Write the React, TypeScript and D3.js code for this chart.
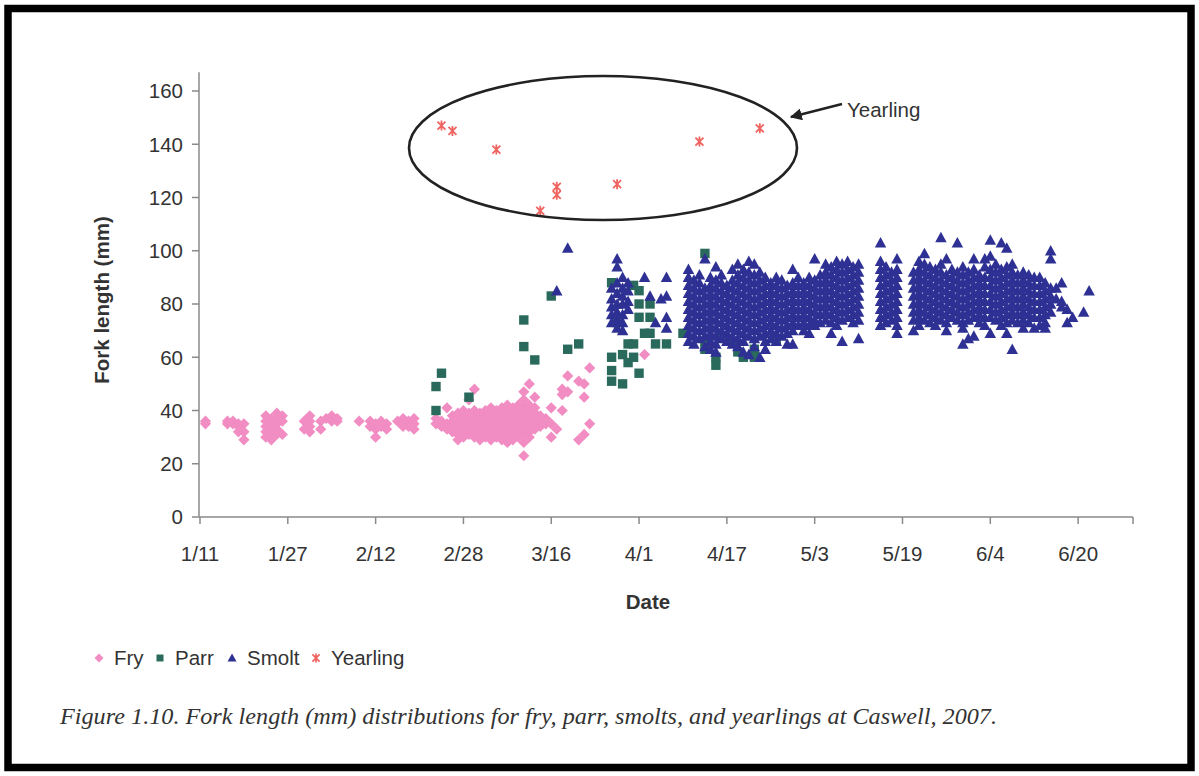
import React from "react";
import * as d3 from "d3";

// ---------- DATA ----------
const xTickLabels = ["1/11", "1/27", "2/12", "2/28", "3/16", "4/1", "4/17", "5/3", "5/19", "6/4", "6/20"];
const yTickValues = [0, 20, 40, 60, 80, 100, 120, 140, 160];
const seriesNames = ["Fry", "Parr", "Smolt", "Yearling"];

type Col = [string, number[]];

const fry: Col[] = [
  ["1/12", [36, 35]], ["1/16", [36, 35]], ["1/17", [36, 35]], ["1/18", [35, 34, 32]], ["1/19", [35, 32, 29]],
  ["1/23", [38, 36, 34, 32, 30]], ["1/24", [37, 35, 33, 31, 29]], ["1/25", [39, 37, 35, 33, 31]], ["1/26", [38, 36, 31]],
  ["1/30", [36, 33]], ["1/31", [38, 36, 34, 32]], ["2/2", [36, 33]], ["2/3", [37]], ["2/4", [38, 36]], ["2/5", [37, 36]],
  ["2/9", [36]], ["2/11", [36, 34]], ["2/12", [35, 33, 30]], ["2/13", [36, 34]], ["2/14", [35, 33]], ["2/16", [36]],
  ["2/17", [37, 35, 34]], ["2/18", [36, 34]], ["2/19", [37, 35, 33]],
  ["2/23", [37, 35]], ["2/24", [36, 34]], ["2/25", [41, 35, 33]], ["2/26", [38, 36, 34, 32]],
  ["2/27", [39, 37, 35, 33, 31, 29]], ["2/28", [40, 38, 36, 34, 32, 30]], ["3/1", [44, 39, 37, 35, 33, 31]],
  ["3/2", [48, 40, 38, 36, 34, 32, 30]], ["3/3", [39, 37, 35, 33, 31, 29]], ["3/4", [40, 38, 36, 34, 32, 30]],
  ["3/5", [41, 39, 37, 35, 33, 31, 29]], ["3/6", [40, 38, 36, 34, 32, 30]], ["3/7", [41, 39, 37, 35, 33, 31, 29]],
  ["3/8", [42, 40, 38, 36, 34, 32, 30, 28]], ["3/9", [41, 39, 37, 35, 33, 31, 29]], ["3/10", [42, 40, 38, 36, 34, 32, 30]],
  ["3/11", [47, 44, 41, 39, 37, 35, 33, 31, 28, 23]], ["3/12", [50, 42, 40, 38, 36, 34, 32, 30]],
  ["3/13", [45, 41, 39, 37, 35, 33]], ["3/14", [38, 36, 34]], ["3/15", [37, 35]], ["3/16", [41, 35, 30]],
  ["3/17", [33]], ["3/18", [48, 46, 40]], ["3/19", [53, 47]], ["3/21", [51, 29]], ["3/22", [50, 45, 31]],
  ["3/23", [56, 35]], ["4/2", [61]],
];

const parr: Col[] = [
  ["2/23", [49, 40]], ["2/24", [54]], ["3/1", [45]], ["3/11", [74, 64]], ["3/13", [59]], ["3/16", [83]],
  ["3/19", [63]], ["3/21", [65]], ["3/27", [88, 60, 55, 51]], ["3/28", [73]], ["3/29", [61, 50]],
  ["3/30", [65, 58]], ["3/31", [87, 65, 60]], ["4/1", [85, 80, 75, 54]], ["4/2", [69]], ["4/3", [80, 75, 69]],
  ["4/4", [65]], ["4/6", [65]], ["4/9", [69]], ["4/13", [99, 66, 63]], ["4/15", [60, 57]], ["4/16", [68]],
  ["4/18", [66]], ["4/19", [62]], ["4/20", [60]], ["4/22", [63, 60]], ["4/26", [66]],
];

const smolt: Col[] = [
  ["3/17", [85]], ["3/19", [101]],
  ["3/27", [86, 82, 79, 76, 73]], ["3/28", [97, 94, 88, 84, 80, 77, 74, 71]], ["3/29", [90, 86, 83, 80, 76, 73, 70]],
  ["3/30", [88, 85, 81, 78]], ["4/2", [90]], ["4/3", [83]], ["4/4", [73]], ["4/5", [82]], ["4/6", [90, 83, 75, 71]],
  ["4/10", [93, 90, 87, 84, 81, 78, 75, 72, 69, 66]], ["4/11", [89, 86, 83, 80, 77, 74, 71, 68, 65]],
  ["4/12", [91, 88, 85, 82, 79, 76, 73, 70, 67]], ["4/13", [97, 86, 83, 80, 77, 74, 71, 68, 64]],
  ["4/14", [90, 87, 84, 81, 78, 75, 72, 69, 66, 63]], ["4/15", [94, 89, 86, 83, 80, 77, 74, 71, 68, 65, 62]],
  ["4/16", [91, 88, 85, 82, 79, 76, 73, 70, 67]], ["4/17", [87, 84, 81, 78, 75, 72, 69, 66]],
  ["4/18", [93, 89, 86, 83, 80, 77, 74, 71, 68, 65]], ["4/19", [95, 91, 88, 85, 82, 79, 76, 73, 70, 67, 64]],
  ["4/20", [93, 90, 87, 84, 81, 78, 75, 72, 69, 66, 62]], ["4/21", [96, 92, 89, 86, 83, 80, 77, 74, 71, 68, 61]],
  ["4/22", [95, 91, 88, 85, 82, 79, 76, 73, 70, 67, 64]], ["4/23", [92, 89, 86, 83, 80, 77, 74, 71, 68, 60]],
  ["4/24", [90, 87, 84, 81, 78, 75, 72, 69, 66, 63]], ["4/25", [88, 85, 82, 79, 76, 73, 70, 67]],
  ["4/26", [90, 87, 84, 81, 78, 75, 72, 69, 66]], ["4/27", [89, 86, 83, 80, 77, 74, 71, 68]],
  ["4/28", [87, 84, 81, 78, 75, 72, 69, 65]], ["4/29", [93, 88, 85, 82, 79, 76, 73, 70, 65]],
  ["4/30", [90, 87, 84, 81, 78, 75, 72]], ["5/1", [88, 85, 82, 79, 76, 73, 70]],
  ["5/2", [90, 87, 84, 81, 78, 75, 72, 69]], ["5/3", [97, 89, 86, 83, 80, 77, 74, 72]],
  ["5/4", [91, 88, 85, 82, 79, 76, 73]], ["5/5", [95, 92, 89, 86, 83, 80, 77, 74]],
  ["5/6", [94, 91, 88, 85, 82, 79, 76, 73, 69]], ["5/7", [96, 93, 90, 87, 84, 81, 78, 75, 72]],
  ["5/8", [95, 92, 89, 86, 83, 80, 77, 74, 66]], ["5/9", [96, 93, 90, 87, 84, 81, 78, 75]],
  ["5/10", [94, 91, 88, 85, 82, 79, 76, 73]], ["5/11", [95, 92, 89, 86, 83, 80, 77, 74, 67]],
  ["5/15", [103, 96, 93, 90, 87, 84, 81, 78, 75, 72]], ["5/16", [94, 91, 88, 85, 82, 79, 76, 73]],
  ["5/17", [92, 89, 86, 83, 80, 77, 74]], ["5/18", [97, 93, 90, 87, 84, 81, 78, 75, 72, 69]],
  ["5/21", [92, 89, 86, 83, 80, 77, 74, 70]], ["5/22", [96, 93, 90, 87, 84, 81, 78, 75, 72]],
  ["5/23", [99, 95, 92, 89, 86, 83, 80, 77, 74]], ["5/24", [94, 91, 88, 85, 82, 79, 76, 73]],
  ["5/25", [93, 90, 87, 84, 81, 78, 75, 72]], ["5/26", [105, 95, 92, 89, 86, 83, 80, 77, 74]],
  ["5/27", [97, 91, 88, 85, 82, 79, 76, 73, 70]], ["5/28", [93, 90, 87, 84, 81, 78, 75]],
  ["5/29", [103, 92, 89, 86, 83, 80, 77, 74]], ["5/30", [94, 91, 88, 85, 82, 79, 76, 73, 71, 65]],
  ["5/31", [92, 89, 86, 83, 80, 77, 74, 67]], ["6/1", [97, 93, 90, 87, 84, 81, 78, 75, 68]],
  ["6/2", [91, 88, 85, 82, 79, 76, 73]], ["6/3", [97, 94, 90, 87, 84, 81, 78, 75, 72]],
  ["6/4", [104, 98, 93, 90, 87, 84, 81, 78, 75, 69]], ["6/5", [95, 92, 89, 86, 83, 80, 77, 74]],
  ["6/6", [103, 93, 90, 87, 84, 81, 78, 75, 72]], ["6/7", [101, 94, 91, 88, 85, 82, 79, 76, 73, 69]],
  ["6/8", [95, 92, 89, 86, 83, 80, 77, 74, 63]], ["6/9", [91, 88, 85, 82, 79, 76, 73]],
  ["6/10", [92, 89, 86, 83, 80, 77, 74, 71]], ["6/11", [91, 88, 85, 82, 79, 76, 73]],
  ["6/12", [90, 87, 84, 81, 78, 75, 71]], ["6/13", [90, 87, 84, 81, 78, 75, 72]],
  ["6/14", [88, 85, 82, 79, 76, 73, 71]], ["6/15", [100, 97, 86, 83, 80, 77]],
  ["6/16", [86, 82]], ["6/17", [88, 81, 79]], ["6/18", [78, 73]], ["6/19", [75]], ["6/21", [77]], ["6/22", [85]],
];

const yearling: Col[] = [
  ["2/24", [147]], ["2/26", [145]], ["3/6", [138]], ["3/14", [115]], ["3/17", [124, 121]],
  ["3/28", [125]], ["4/12", [141]], ["4/23", [146]],
];

// ---------- HELPERS ----------
const toDate = (md: string) => {
  const [m, d] = md.split("/").map(Number);
  return new Date(2007, m - 1, d);
};
const flatten = (cols: Col[]) => cols.flatMap(([md, vals]) => vals.map((v) => ({ date: toDate(md), v })));

const COLORS = { fry: "#F18DC2", parr: "#2A6A5D", smolt: "#2E3193", yearling: "#EF6360" };
const TEXT = "#333333";
const AXIS = "#8a8a8a";

const diamond = (r: number) => `M0,${-r}L${r},0L0,${r}L${-r},0Z`;
const square = (s: number) => `M${-s},${-s}H${s}V${s}H${-s}Z`;
const triangle = (w: number, h: number) => `M0,${-h * 0.55}L${w / 2},${h * 0.45}L${-w / 2},${h * 0.45}Z`;
const star = (r: number) => `M0,${-r}V${r}M${-r * 0.8},${-r * 0.8}L${r * 0.8},${r * 0.8}M${-r * 0.8},${r * 0.8}L${r * 0.8},${-r * 0.8}`;

export default function App() {
  const x = d3.scaleTime().domain([new Date(2007, 0, 11), new Date(2007, 5, 30)]).range([200, 1133]);
  const y = d3.scaleLinear().domain([0, 160]).range([517, 91]);
  const yTop = y(167);

  const fryPts = flatten(fry);
  const parrPts = flatten(parr);
  const smoltPts = flatten(smolt);
  const yrPts = flatten(yearling);

  const font = "'Liberation Sans', Arial, sans-serif";

  const legendX = [99, 160, 232, 316];
  const legendShapes = [
    <path key="l0" d={diamond(4.5)} fill={COLORS.fry} />,
    <path key="l1" d={square(3.5)} fill={COLORS.parr} />,
    <path key="l2" d={triangle(9, 8)} fill={COLORS.smolt} />,
    <path key="l3" d={star(4.5)} stroke={COLORS.yearling} strokeWidth={1.7} fill="none" />,
  ];

  return (
    <svg width={1199} height={776} style={{ position: "absolute", left: 0, top: 0 }} fontFamily={font}>
      <rect x={0} y={0} width={1199} height={776} fill="#ffffff" />
      <rect x={8} y={8.5} width={1183} height={759} fill="none" stroke="#000" strokeWidth={7.5} />

      {/* axes */}
      <line x1={199} x2={199} y1={yTop} y2={y(0)} stroke={AXIS} strokeWidth={1.5} />
      <line x1={199} x2={1133} y1={y(0)} y2={y(0)} stroke={AXIS} strokeWidth={1.5} />
      {yTickValues.map((v) => (
        <g key={v}>
          <line x1={192} x2={199} y1={y(v)} y2={y(v)} stroke={AXIS} strokeWidth={1.5} />
          <text x={183} y={y(v)} dy="0.36em" textAnchor="end" fontSize={20.5} fill={TEXT}>
            {v}
          </text>
        </g>
      ))}
      {xTickLabels.map((t) => {
        const xx = x(toDate(t));
        return (
          <g key={t}>
            <line x1={xx} x2={xx} y1={y(0)} y2={y(0) + 7} stroke={AXIS} strokeWidth={1.5} />
            <text x={xx} y={561} textAnchor="middle" fontSize={20.5} fill={TEXT}>
              {t}
            </text>
          </g>
        );
      })}
      <line x1={1133} x2={1133} y1={y(0)} y2={y(0) + 7} stroke={AXIS} strokeWidth={1.5} />

      {/* axis titles */}
      <text x={648} y={609} textAnchor="middle" fontSize={20.5} fontWeight="bold" fill={TEXT}>
        Date
      </text>
      <text transform="translate(109,300) rotate(-90)" textAnchor="middle" fontSize={20.5} fontWeight="bold" fill={TEXT}>
        Fork length (mm)
      </text>

      {/* data */}
      <g>
        {fryPts.map((p, i) => (
          <path key={"f" + i} d={diamond(5.6)} transform={`translate(${x(p.date)},${y(p.v)})`} fill={COLORS.fry} />
        ))}
      </g>
      <g>
        {parrPts.map((p, i) => (
          <path key={"p" + i} d={square(4.7)} transform={`translate(${x(p.date)},${y(p.v)})`} fill={COLORS.parr} />
        ))}
      </g>
      <g>
        {smoltPts.map((p, i) => (
          <path key={"s" + i} d={triangle(11.5, 10.5)} transform={`translate(${x(p.date)},${y(p.v)})`} fill={COLORS.smolt} />
        ))}
      </g>
      <g>
        {yrPts.map((p, i) => (
          <path key={"y" + i} d={star(5)} transform={`translate(${x(p.date)},${y(p.v)})`} stroke={COLORS.yearling} strokeWidth={1.8} fill="none" />
        ))}
      </g>

      {/* annotation */}
      <ellipse cx={603} cy={148} rx={194} ry={72} fill="none" stroke="#222" strokeWidth={2.6} />
      <defs>
        <marker id="ah" viewBox="0 0 10 10" refX={9} refY={5} markerWidth={5} markerHeight={5} orient="auto">
          <path d="M0,0L10,5L0,10Z" fill="#222" />
        </marker>
      </defs>
      <line x1={842} y1={104} x2={791} y2={117} stroke="#222" strokeWidth={2.4} markerEnd="url(#ah)" />
      <text x={847} y={117} fontSize={20.5} fill={TEXT}>
        Yearling
      </text>

      {/* legend */}
      {seriesNames.map((n, i) => (
        <g key={n}>
          <g transform={`translate(${legendX[i]},${658})`}>{legendShapes[i]}</g>
          <text x={legendX[i] + 15} y={665} fontSize={20.5} fill={TEXT}>
            {n}
          </text>
        </g>
      ))}

      {/* caption */}
      <text
        x={60}
        y={724}
        fontSize={23}
        fontStyle="italic"
        fontFamily="'Liberation Serif', 'Times New Roman', serif"
        fill={TEXT}
        textLength={937}
        lengthAdjust="spacingAndGlyphs"
      >
        Figure 1.10. Fork length (mm) distributions for fry, parr, smolts, and yearlings at Caswell, 2007.
      </text>
    </svg>
  );
}
